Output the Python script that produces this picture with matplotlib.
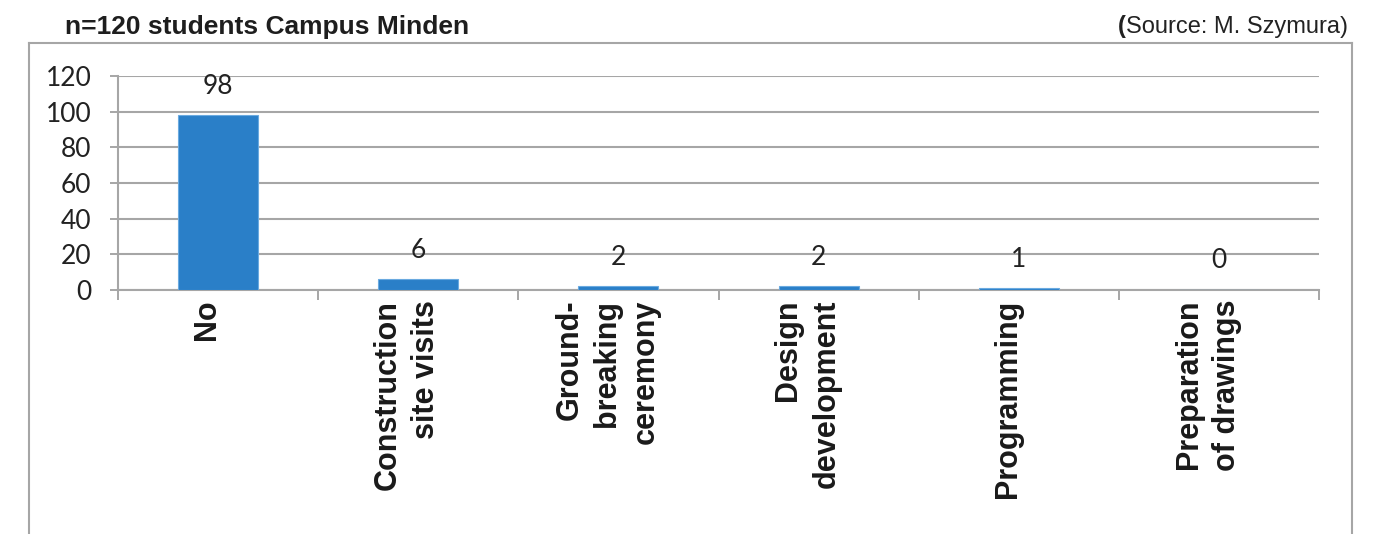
import matplotlib
matplotlib.use("Agg")
import matplotlib.pyplot as plt
from matplotlib.lines import Line2D

# Survey answers: involvement in project phases
categories = ["No", "Construction\nsite visits", "Ground-\nbreaking\nceremony",
              "Design\ndevelopment", "Programming", "Preparation\nof drawings"]
counts = [98, 6, 2, 2, 1, 0]
y_ticks = [0, 20, 40, 60, 80, 100, 120]

W, H = 1381, 534
DPI = 100
fig = plt.figure(figsize=(W / DPI, H / DPI), dpi=DPI)

grid_col = "#A6A6A6"
bar_col = "#2A7FC8"

ax = fig.add_axes([118 / W, 1 - 290 / H, (1319 - 118) / W, (290 - 76) / H])
x = list(range(len(categories)))
ax.bar(x, counts, width=0.4, color=bar_col, edgecolor="#6AAAE0", linewidth=0.8, zorder=3)

ax.set_xlim(-0.5, len(categories) - 0.5)
ax.set_ylim(0, 120)
ax.set_yticks(y_ticks)
ax.set_yticklabels([str(t) for t in y_ticks], fontsize=19, family="Lato", color="#222222")
ax.tick_params(axis="y", length=6, width=1.4, color=grid_col, pad=13)
ax.yaxis.grid(True, color=grid_col, linewidth=1.5, zorder=0)
ax.set_axisbelow(True)

# category boundaries carry the bottom tick marks
ax.set_xticks([i - 0.5 for i in range(len(categories) + 1)])
ax.set_xticklabels([])
ax.tick_params(axis="x", length=7, width=1.4, color=grid_col)

for s in ["top", "right"]:
    ax.spines[s].set_visible(False)
for s in ["left", "bottom"]:
    ax.spines[s].set_color(grid_col)
    ax.spines[s].set_linewidth(1.5)

# rotated category labels below the axis
for xi, lab in zip(x, categories):
    ax.annotate(lab, xy=(xi, 0), xycoords="data", xytext=(-8, -7), textcoords="offset points",
                rotation=90, ha="center", va="top", multialignment="right",
                fontsize=22, fontweight="bold", family="Liberation Sans",
                color="#1A1A1A", linespacing=1.35, annotation_clip=False)

# value labels above bars
for xi, v in zip(x, counts):
    ax.annotate(str(v), xy=(xi, v), xytext=(0, 21), textcoords="offset points",
                ha="center", va="center", fontsize=19, family="Lato", color="#222222")

# outer frame of the chart
frame_kw = dict(color=grid_col, linewidth=1.5, transform=fig.transFigure)
fig.add_artist(Line2D([29 / W, 29 / W], [0, 1 - 43 / H], **frame_kw))
fig.add_artist(Line2D([29 / W, 1352 / W], [1 - 43 / H, 1 - 43 / H], **frame_kw))
fig.add_artist(Line2D([1352 / W, 1352 / W], [0, 1 - 43 / H], **frame_kw))

fig.text(65 / W, 1 - 27 / H, "n=120 students Campus Minden", ha="left", va="center",
         fontsize=19, fontweight="bold", family="Liberation Sans", color="#1E1E1E")

src = fig.text(1348 / W, 1 - 27 / H, "Source: M. Szymura)", ha="right", va="center",
               fontsize=17, family="Liberation Sans", color="#222222")
fig.canvas.draw()
bb = src.get_window_extent(fig.canvas.get_renderer())
fig.text(bb.x0 / W, 1 - 27 / H, "(", ha="right", va="center",
         fontsize=17, fontweight="bold", family="Liberation Sans", color="#222222")

fig.savefig("out.png", dpi=DPI, facecolor="white")
